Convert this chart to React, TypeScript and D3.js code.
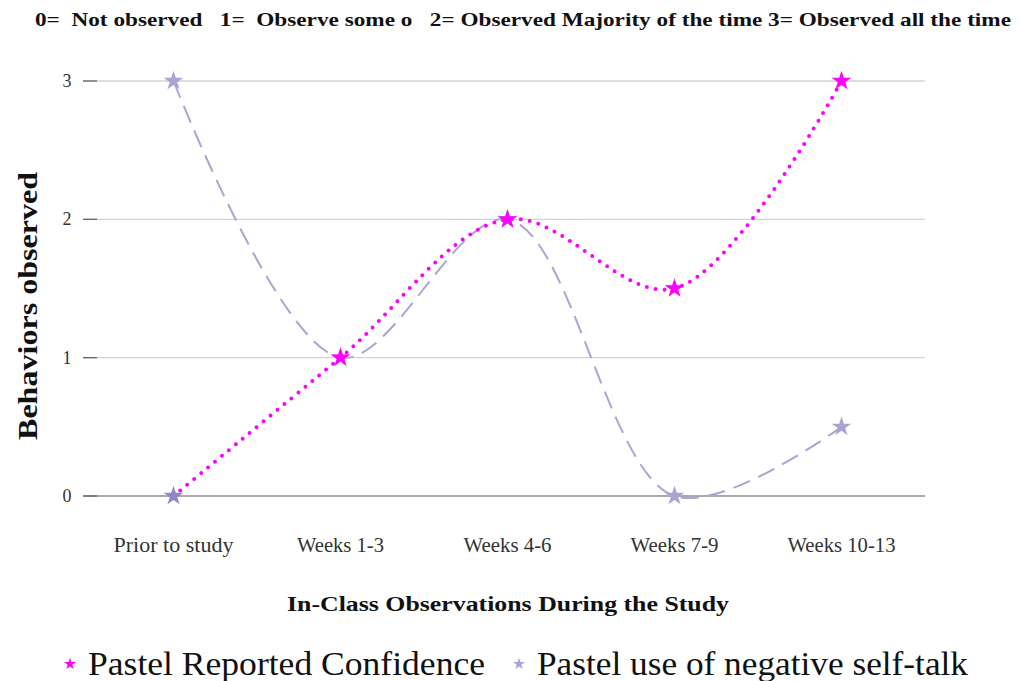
import React from "react";
import * as d3 from "d3";

const categories = ["Prior to study", "Weeks 1-3", "Weeks 4-6", "Weeks 7-9", "Weeks 10-13"];
const confidence = [0, 1, 2, 1.5, 3];
const negativeTalk = [3, 1, 2, 0, 0.5];
const yTicks = [0, 1, 2, 3];
const titleText = "0=  Not observed   1=  Observe some o   2= Observed Majority of the time 3= Observed all the time";
const seriesNames = ["Pastel Reported Confidence", "Pastel use of negative self-talk"];

const W = 1021, H = 681;
const plotLeft = 90, plotRight = 925, plotTop = 81, plotBottom = 496;
const MAGENTA = "#ff00ff";
const LAV = "#aaa4d4";
const FONT = "'Liberation Serif', serif";

export default function App() {
  const x = d3.scalePoint<string>().domain(categories).range([plotLeft, plotRight]).padding(0.5);
  const y = d3.scaleLinear().domain([0, 3]).range([plotBottom, plotTop]);
  const line = d3.line<number>()
    .x((_, i) => x(categories[i]) as number)
    .y((d) => y(d))
    .curve(d3.curveCatmullRom.alpha(0.5));
  const star = d3.symbol().type(d3.symbolStar);
  const starBig = star.size(120)() as string;
  const starSmall = star.size(45)() as string;
  const tickWidths = [120, 87, 88, 88, 108];

  return (
    <svg width={W} height={H} style={{ position: "absolute", left: 0, top: 0, background: "#fff" }}>
      <text x={35} y={26} style={{ whiteSpace: "pre" }} textLength={976} lengthAdjust="spacingAndGlyphs" fontFamily={FONT} fontWeight="bold" fontSize={19} fill="#111">
        {titleText}
      </text>
      {yTicks.map((t) => (
        <g key={t}>
          <line x1={83} x2={plotRight} y1={y(t)} y2={y(t)} stroke={t === 0 ? "#555" : "#d3d3d3"} strokeWidth={t === 0 ? 1.2 : 1.3} />
          <line x1={83} x2={97} y1={y(t)} y2={y(t)} stroke="#666" strokeWidth={1.3} />
          <text x={67} y={y(t) + 6} textAnchor="middle" fontFamily={FONT} fontSize={18} fill="#333">{t}</text>
        </g>
      ))}
      {categories.map((c, i) => (
        <text key={c} x={(x(c) as number) - tickWidths[i] / 2} y={552} textLength={tickWidths[i]} lengthAdjust="spacingAndGlyphs" fontFamily={FONT} fontSize={20} fill="#333">{c}</text>
      ))}
      <text x={287} y={611} textLength={442} lengthAdjust="spacingAndGlyphs" fontFamily={FONT} fontWeight="bold" fontSize={22} fill="#111">
        In-Class Observations During the Study
      </text>
      <text transform={`translate(37,440) rotate(-90)`} textLength={268} lengthAdjust="spacingAndGlyphs" fontFamily={FONT} fontWeight="bold" fontSize={28} fill="#111">
        Behaviors observed
      </text>
      <path d={line(negativeTalk) as string} fill="none" stroke={LAV} strokeWidth={2} strokeDasharray="18,9" />
      <path d={line(confidence) as string} fill="none" stroke={MAGENTA} strokeWidth={4} strokeDasharray="0,9" strokeLinecap="round" />
      {negativeTalk.map((v, i) => (
        <path key={"n" + i} d={starBig} transform={`translate(${x(categories[i])},${y(v)})`} fill={LAV} />
      ))}
      {confidence.map((v, i) => (
        i === 0 ? null :
        <path key={"c" + i} d={starBig} transform={`translate(${x(categories[i])},${y(v)})`} fill={MAGENTA} />
      ))}
      <path d={starBig} transform={`translate(${x(categories[0])},${y(confidence[0])})`} fill="#8f88c8" />
      <path d={starSmall} transform="translate(70,664)" fill={MAGENTA} />
      <text x={88} y={675} textLength={397} lengthAdjust="spacingAndGlyphs" fontFamily={FONT} fontSize={33} fill="#111">{seriesNames[0]}</text>
      <path d={starSmall} transform="translate(519,664)" fill={LAV} />
      <text x={537} y={675} textLength={431} lengthAdjust="spacingAndGlyphs" fontFamily={FONT} fontSize={33} fill="#111">{seriesNames[1]}</text>
    </svg>
  );
}
